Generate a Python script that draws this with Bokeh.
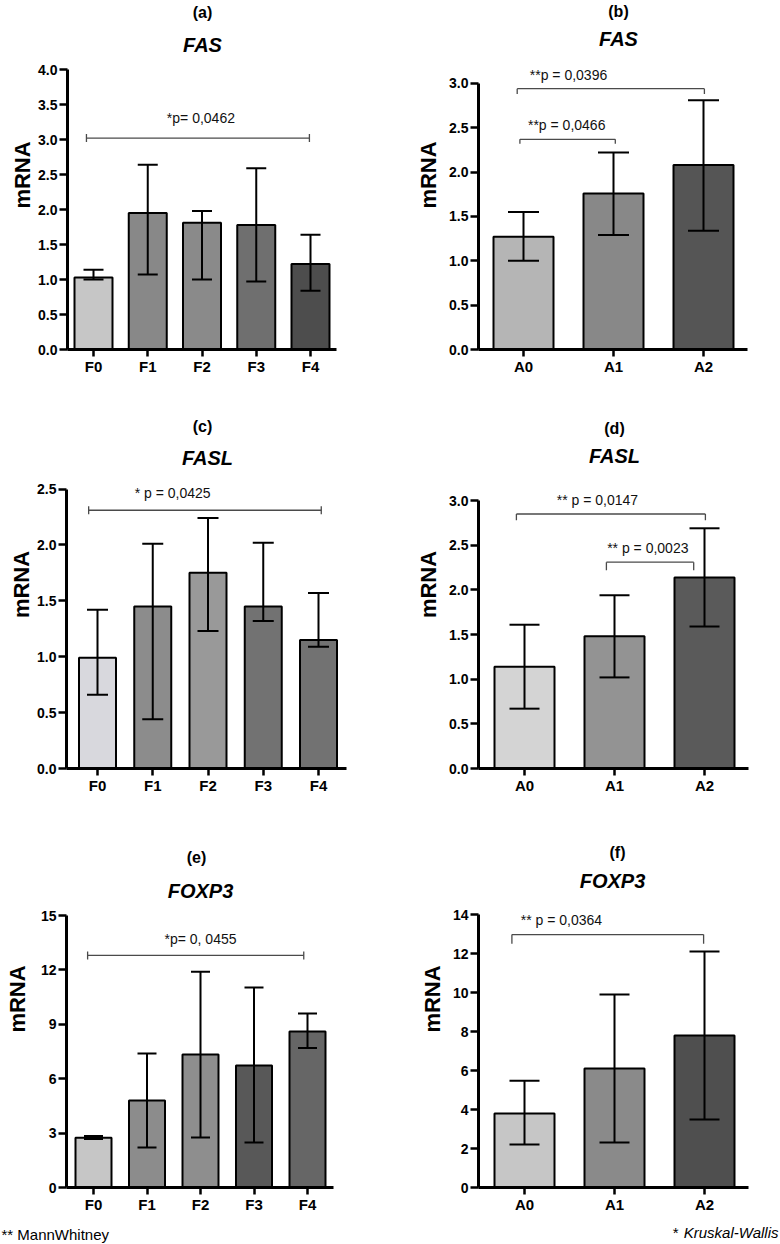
import numpy as np
from bokeh.plotting import figure
from bokeh.models import (Range1d, FixedTicker, CanvasTexture,
                          ColumnDataSource, NumeralTickFormatter)
from bokeh.layouts import row, column
from bokeh.core.properties import value
from bokeh.embed import file_html
from bokeh.resources import INLINE

FONT = "Liberation Sans"

# ---------------- data ----------------
fib_groups = ["F0", "F1", "F2", "F3", "F4"]
act_groups = ["A0", "A1", "A2"]

fas_fib_mean = [1.03, 1.95, 1.81, 1.78, 1.22]
fas_fib_lo = [1.00, 1.07, 1.00, 0.97, 0.84]
fas_fib_hi = [1.14, 2.64, 1.98, 2.59, 1.64]

fas_act_mean = [1.27, 1.76, 2.08]
fas_act_lo = [1.00, 1.29, 1.34]
fas_act_hi = [1.55, 2.22, 2.81]

fasl_fib_mean = [0.99, 1.45, 1.75, 1.45, 1.15]
fasl_fib_lo = [0.66, 0.44, 1.23, 1.32, 1.09]
fasl_fib_hi = [1.42, 2.01, 2.24, 2.02, 1.57]

fasl_act_mean = [1.14, 1.48, 2.14]
fasl_act_lo = [0.67, 1.02, 1.59]
fasl_act_hi = [1.61, 1.94, 2.69]

foxp3_fib_mean = [2.75, 4.80, 7.34, 6.73, 8.61]
foxp3_fib_lo = [2.68, 2.20, 2.76, 2.48, 7.70]
foxp3_fib_hi = [2.84, 7.39, 11.90, 11.03, 9.60]

foxp3_act_mean = [3.80, 6.10, 7.80]
foxp3_act_lo = [2.20, 2.31, 3.49]
foxp3_act_hi = [5.48, 9.90, 12.10]

ticks_fas_fib = [0.0, 0.5, 1.0, 1.5, 2.0, 2.5, 3.0, 3.5, 4.0]
ticks_fas_act = [0.0, 0.5, 1.0, 1.5, 2.0, 2.5, 3.0]
ticks_fasl_fib = [0.0, 0.5, 1.0, 1.5, 2.0, 2.5]
ticks_fasl_act = [0.0, 0.5, 1.0, 1.5, 2.0, 2.5, 3.0]
ticks_foxp3_fib = [0, 3, 6, 9, 12, 15]
ticks_foxp3_act = [0, 2, 4, 6, 8, 10, 12, 14]

# significance annotations: text, bracket x-from, x-to, bracket y, leg end y, text x, text y
kw_fas = dict(text=["*p= 0,0462"], x1=[-0.13], x2=[3.98], y=[3.02], leg=[3.02], tx=[1.98], ty=[3.31])
mw_fas = dict(text=["**p = 0,0396", "**p = 0,0466"], x1=[-0.07, -0.04], x2=[2.01, 1.02],
              y=[2.94, 2.37], leg=[2.88, 2.32], tx=[0.50, 0.48], ty=[3.09, 2.53])
kw_fasl = dict(text=["* p = 0,0425"], x1=[-0.16], x2=[4.05], y=[2.31], leg=[2.31], tx=[1.36], ty=[2.46])
mw_fasl = dict(text=["** p = 0,0147", "** p = 0,0023"], x1=[-0.09, 0.91], x2=[2.01, 1.88],
               y=[2.85, 2.31], leg=[2.78, 2.22], tx=[0.81, 1.37], ty=[3.01, 2.47])
kw_foxp3 = dict(text=["*p= 0, 0455"], x1=[-0.11], x2=[3.93], y=[12.8], leg=[12.8], tx=[2.0], ty=[13.7])
mw_foxp3 = dict(text=["** p = 0,0364"], x1=[-0.14], x2=[1.99], y=[12.97], leg=[12.5], tx=[0.41], ty=[13.74])

footnote_left = "** MannWhitney"
footnote_right_mark = "*"
footnote_right = "Kruskal-Wallis"


def checker(c):
    return CanvasTexture(code=(
        "const h = scale / 2;"
        f"ctx.fillStyle = '{c}';"
        "ctx.fillRect(0, 0, h, h);"
        "ctx.fillRect(h, h, h, h);"))


def panel(letter, gene, cats, mean, lo, hi, yticks, fmt, ann, kind,
          fills, darks, geo, col_left, fig_top, fig_h,
          title_px, label_standoff, cap_px, bar_px):
    L, x0, dx, xend, y0, ppu = geo
    fig_w = 390
    R = col_left + fig_w - 4
    n = len(cats)
    xs = np.arange(n)
    X = lambda px: (px - x0) / dx
    Y = lambda py: (y0 - py) / ppu
    p = figure(width=fig_w, height=fig_h, output_backend="svg", toolbar_location=None,
               title=None, x_range=Range1d(X(L), X(R)), y_range=Range1d(0, Y(fig_top)),
               min_border_left=L - col_left, min_border_right=4, min_border_top=0,
               min_border_bottom=fig_top + fig_h - y0)
    p.outline_line_color = None
    p.xgrid.visible = False
    p.ygrid.visible = False
    p.background_fill_color = "white"

    extra = {}
    pats = []
    for i, d in enumerate(darks):
        if d is None:
            pats.append(" ")
        else:
            key = f"chk{letter}{i}"
            extra[key] = checker(d)
            pats.append(key)
    src = ColumnDataSource(dict(x=xs, top=mean, fill=fills, pat=pats))
    p.vbar(x="x", top="top", bottom=0, width=bar_px / dx, source=src,
           fill_color="fill", line_color="black", line_width=2,
           hatch_pattern="pat", hatch_color="black", hatch_scale=6,
           hatch_extra=extra)

    lo_a = np.array(lo)
    hi_a = np.array(hi)
    cw = cap_px / dx / 2
    p.segment(xs, lo_a, xs, hi_a, line_color="black", line_width=2)
    p.segment(xs - cw, hi_a, xs + cw, hi_a, line_color="black", line_width=2)
    p.segment(xs - cw, lo_a, xs + cw, lo_a, line_color="black", line_width=2)

    x1 = np.array(ann["x1"]); x2 = np.array(ann["x2"])
    yb = np.array(ann["y"]); yl = np.array(ann["leg"])
    lc = "#4a4a4a"
    p.segment(x1, yb, x2, yb, line_color=lc, line_width=1.3)
    if kind == "kw":
        d = 4 / ppu
        p.segment(x1, yb - d, x1, yb + d, line_color=lc, line_width=1.3)
        p.segment(x2, yb - d, x2, yb + d, line_color=lc, line_width=1.3)
    else:
        p.segment(x1, yb, x1, yl, line_color=lc, line_width=1.3)
        p.segment(x2, yb, x2, yl, line_color=lc, line_width=1.3)
    p.text(x=ann["tx"], y=ann["ty"], text=ann["text"], text_font=value(FONT),
           text_font_size="14px", text_align="center", text_baseline="middle",
           text_color="#111111")

    (lx, ly), (gx, gy) = title_px
    p.text(x=[X(lx)], y=[Y(ly)], text=[f"({letter})"], text_font=value(FONT),
           text_font_size="16px", text_font_style="bold", text_align="center",
           text_baseline="middle", text_color="black")
    p.text(x=[X(gx)], y=[Y(gy)], text=[gene], text_font=value(FONT),
           text_font_size="20px", text_font_style="bold italic", text_align="center",
           text_baseline="middle", text_color="black")

    xa = p.xaxis[0]
    xa.ticker = FixedTicker(ticks=list(range(n)))
    xa.major_label_overrides = {i: c for i, c in enumerate(cats)}
    xa.bounds = (X(L), X(xend))
    ya = p.yaxis[0]
    ya.ticker = FixedTicker(ticks=yticks)
    ya.formatter = NumeralTickFormatter(format=fmt)
    ya.bounds = (0, yticks[-1])
    ya.axis_label = "mRNA"
    ya.axis_label_text_font = FONT
    ya.axis_label_text_font_size = "22px"
    ya.axis_label_text_font_style = "bold"
    ya.axis_label_text_color = "black"
    ya.axis_label_standoff = label_standoff
    for ax, fs, to in ((xa, "15px", 7), (ya, "14px", 8)):
        ax.axis_line_width = 3
        ax.axis_line_color = "black"
        ax.major_tick_line_width = 2.5
        ax.major_tick_line_color = "black"
        ax.major_tick_out = to
        ax.major_tick_in = 0
        ax.minor_tick_line_color = None
        ax.major_label_text_font = FONT
        ax.major_label_text_font_size = fs
        ax.major_label_text_font_style = "bold"
        ax.major_label_text_color = "black"
        ax.major_label_standoff = 2
    xa.major_label_standoff = 1
    return p


pa = panel("a", "FAS", fib_groups, fas_fib_mean, fas_fib_lo, fas_fib_hi,
           ticks_fas_fib, "0.0", kw_fas, "kw",
           ["#c6c6c6", "#888888", "#8a8a8a", "#8c8c8c", "#727272"],
           [None, None, None, "#4a4a4a", "#1c1c1c"],
           (67, 93, 54.25, 336, 349, 70.0), 0, 0, 400,
           ((202, 12), (202, 44)), 0, 20, 38)
pb = panel("b", "FAS", act_groups, fas_act_mean, fas_act_lo, fas_act_hi,
           ticks_fas_act, "0.0", mw_fas, "mw",
           ["#cbcbcb", "#9c9c9c", "#6c6c6c"],
           ["#9b9b9b", "#6c6c6c", "#3a3a3a"],
           (478, 523, 90.0, 747, 349, 88.7), 390, 0, 400,
           ((618, 11), (618, 38)), 5, 31, 60)
pc = panel("c", "FASL", fib_groups, fasl_fib_mean, fasl_fib_lo, fasl_fib_hi,
           ticks_fasl_fib, "0.0", kw_fasl, "kw",
           ["#d8d8dd", "#8c8c8c", "#999999", "#8e8e8e", "#8e8e8e"],
           [None, None, None, "#4c4c4c", "#4c4c4c"],
           (66, 97, 55.25, 346, 770, 112.4), 0, 400, 410,
           ((202, 426), (207, 458)), 0, 21, 37)
pd_ = panel("d", "FASL", act_groups, fasl_act_mean, fasl_act_lo, fasl_act_hi,
            ticks_fasl_act, "0.0", mw_fasl, "mw",
            ["#eeeeee", "#a0a0a0", "#6c6c6c"],
            ["#b2b2b2", "#808080", "#444444"],
            (478, 524, 90.0, 748, 768, 89.3), 390, 400, 410,
            ((614, 428), (614, 455)), 5, 30, 60)
pe = panel("e", "FOXP3", fib_groups, foxp3_fib_mean, foxp3_fib_lo, foxp3_fib_hi,
           ticks_foxp3_fib, "0", kw_foxp3, "kw",
           ["#c6c6c6", "#8c8c8c", "#8e8e8e", "#7a7a7a", "#8a8a8a"],
           [None, None, None, "#2e2e2e", "#3a3a3a"],
           (66, 93, 53.5, 333, 1187, 18.13), 0, 810, 412,
           ((196, 857), (200, 890)), 8, 19, 36)
pf = panel("f", "FOXP3", act_groups, foxp3_act_mean, foxp3_act_lo, foxp3_act_hi,
           ticks_foxp3_act, "0", mw_foxp3, "mw",
           ["#dcdcdc", "#9c9c9c", "#5e5e5e"],
           ["#a8a8a8", "#707070", "#3c3c3c"],
           (478, 524, 90.0, 748, 1187, 19.5), 390, 810, 412,
           ((617, 852), (612, 880)), 5, 30, 60)

# footer strip with the two test notes (pixel coordinates of the strip)
foot = figure(width=780, height=22, output_backend="svg", toolbar_location=None,
              title=None, x_range=Range1d(0, 780), y_range=Range1d(0, 22),
              min_border=0, x_axis_location=None, y_axis_location=None)
foot.outline_line_color = None
foot.xgrid.visible = False
foot.ygrid.visible = False
foot.text(x=[1], y=[10], text=[footnote_left], text_font=value(FONT),
          text_font_size="15px", text_align="left", text_baseline="middle",
          text_color="black")
foot.text(x=[778], y=[12], text=[footnote_right], text_font=value(FONT),
          text_font_size="15px", text_font_style="italic", text_align="right",
          text_baseline="middle", text_color="black")
foot.text(x=[678], y=[12], text=[footnote_right_mark], text_font=value(FONT),
          text_font_size="15px", text_align="right", text_baseline="middle",
          text_color="black")

layout = column(row(pa, pb), row(pc, pd_), row(pe, pf), foot)
open("out.html", "w").write(file_html(layout, INLINE))
